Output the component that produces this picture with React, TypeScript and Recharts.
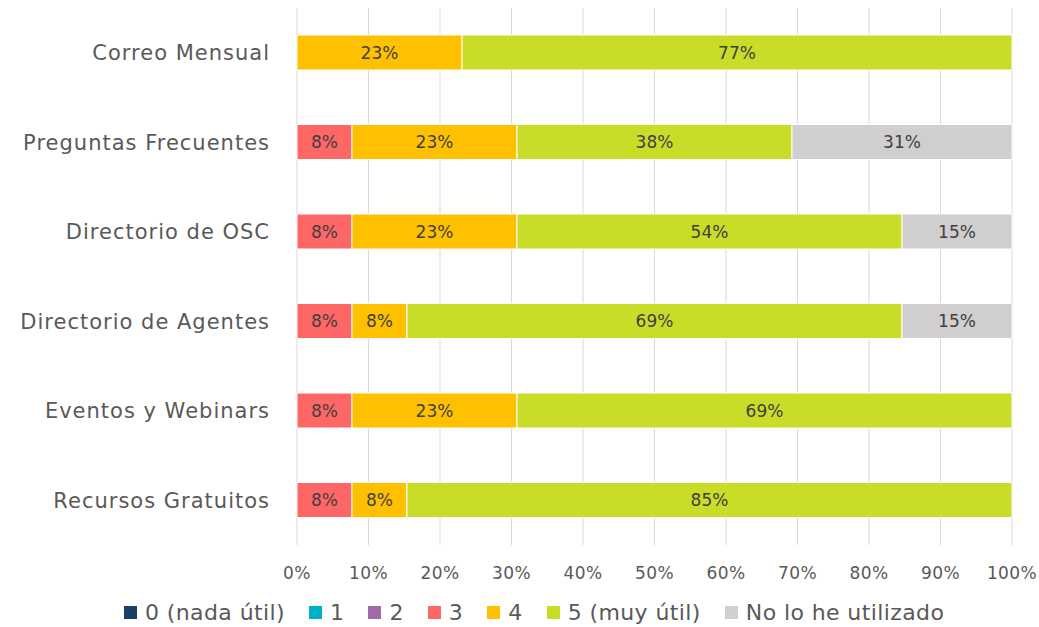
import React from "react";
import { BarChart, Bar, XAxis, YAxis, CartesianGrid, LabelList } from "recharts";

// categories top to bottom
const categories = [
  "Correo Mensual",
  "Preguntas Frecuentes",
  "Directorio de OSC",
  "Directorio de Agentes",
  "Eventos y Webinars",
  "Recursos Gratuitos",
];

// percent of respondents per rating
const s0 = [0, 0, 0, 0, 0, 0];
const s1 = [0, 0, 0, 0, 0, 0];
const s2 = [0, 0, 0, 0, 0, 0];
const s3 = [0, 7.69, 7.69, 7.69, 7.69, 7.69];
const s4 = [23.08, 23.08, 23.08, 7.69, 23.08, 7.69];
const s5 = [76.92, 38.46, 53.85, 69.23, 69.23, 84.62];
const sNo = [0, 30.77, 15.38, 15.38, 0, 0];

const xTicks = [0, 0.1, 0.2, 0.3, 0.4, 0.5, 0.6, 0.7, 0.8, 0.9, 1];

const series = [
  { key: "s0", name: "0 (nada útil)", color: "#1B3F66", values: s0 },
  { key: "s1", name: "1", color: "#00B0C8", values: s1 },
  { key: "s2", name: "2", color: "#A36AAA", values: s2 },
  { key: "s3", name: "3", color: "#FF6666", values: s3 },
  { key: "s4", name: "4", color: "#FFC000", values: s4 },
  { key: "s5", name: "5 (muy útil)", color: "#C9DC28", values: s5 },
  { key: "sNo", name: "No lo he utilizado", color: "#D0CECE", values: sNo },
];

const data = categories.map((name, i) => {
  const row: Record<string, string | number> = { name };
  series.forEach((s) => {
    row[s.key] = s.values[i];
  });
  return row;
});

const FONT = "'DejaVu Sans', sans-serif";
const TEXT = "#595959";

const pct = (v: any) => (v ? `${Math.round(Number(v))}%` : "");

export default function App() {
  return (
    <div style={{ position: "absolute", left: 0, top: 0, width: 1039, height: 627, fontFamily: FONT, background: "#fff" }}>
      <BarChart
        width={1039}
        height={627}
        data={data}
        layout="vertical"
        stackOffset="expand"
        barSize={35}
        margin={{ top: 8, right: 27, bottom: 0, left: 0 }}
      >
        <CartesianGrid horizontal={false} stroke="#D9D9D9" />
        <XAxis
          type="number"
          domain={[0, 1]}
          ticks={xTicks}
          tickFormatter={(v: number) => `${Math.round(v * 100)}%`}
          axisLine={false}
          tickLine={false}
          tickSize={0}
          tickMargin={22}
          height={82}
          tick={{ fontSize: 17, fill: TEXT, fontFamily: FONT, letterSpacing: 0.4 }}
          interval={0}
        />
        <YAxis
          type="category"
          dataKey="name"
          width={297}
          axisLine={false}
          tickLine={false}
          tickSize={0}
          tickMargin={27}
          tick={{ fontSize: 21, fill: TEXT, fontFamily: FONT, letterSpacing: 1 }}
        />
        {series
          .filter((s) => s.values.some((v) => v > 0))
          .map((s) => (
            <Bar key={s.key} dataKey={s.key} stackId="a" fill={s.color} stroke="#fff" strokeWidth={1} isAnimationActive={false}>
              <LabelList
                dataKey={s.key}
                position="center"
                formatter={pct}
                style={{ fontSize: 17, fill: "#404040", fontFamily: FONT }}
              />
            </Bar>
          ))}
      </BarChart>
      <div
        style={{
          position: "absolute",
          top: 600,
          left: 124,
          display: "flex",
          alignItems: "center",
          fontSize: 22,
          letterSpacing: 0.4,
          color: TEXT,
          whiteSpace: "nowrap",
        }}
      >
        {series.map((s) => (
          <div key={s.key} style={{ display: "flex", alignItems: "center", marginRight: 24 }}>
            <span style={{ width: 13, height: 13, background: s.color, marginRight: 8, display: "inline-block" }} />
            <span>{s.name}</span>
          </div>
        ))}
      </div>
    </div>
  );
}
